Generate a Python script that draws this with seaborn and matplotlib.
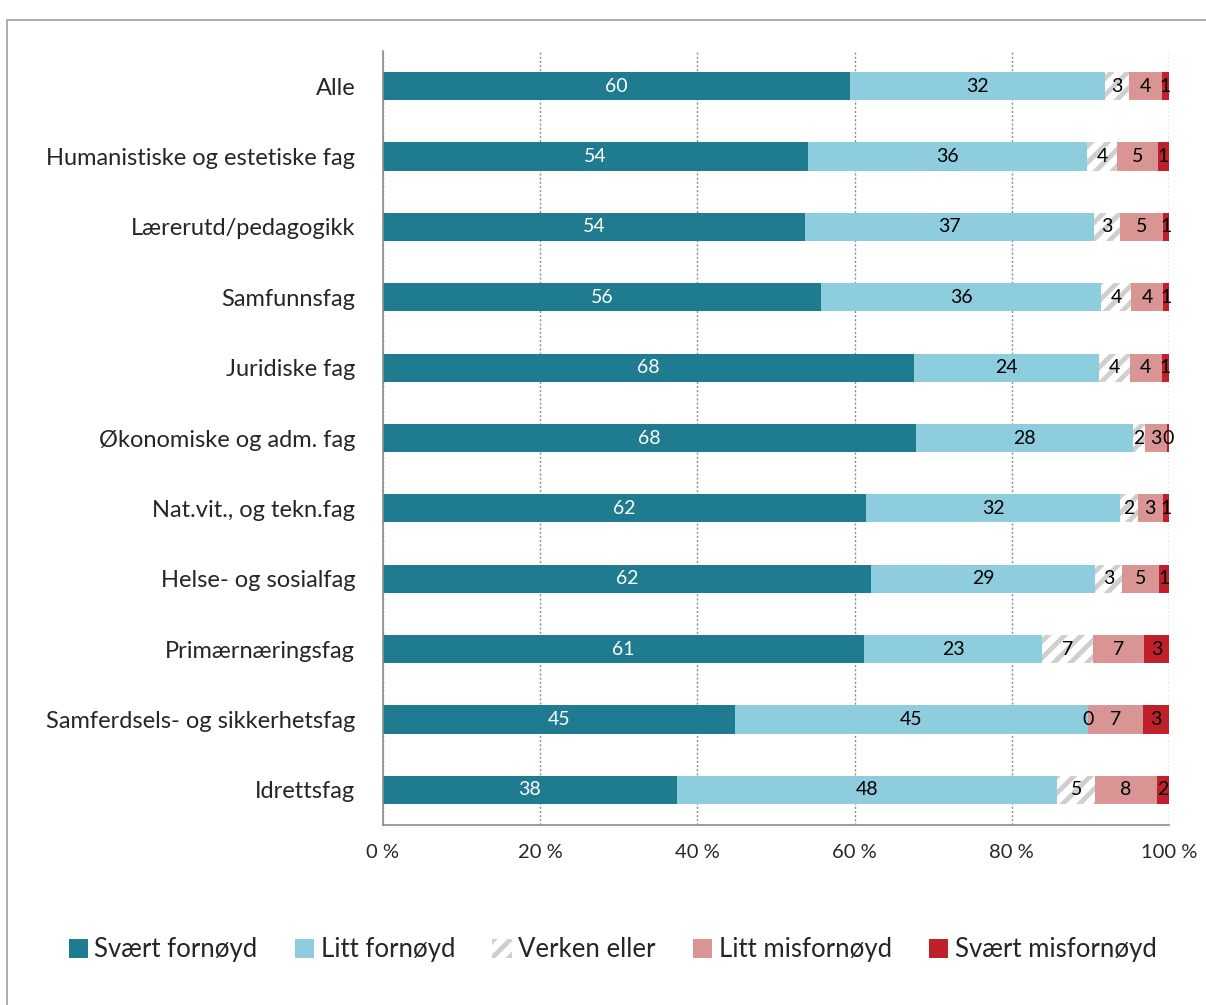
import matplotlib
matplotlib.use("Agg")
import matplotlib.pyplot as plt
import seaborn as sns
import numpy as np
import pandas as pd
from matplotlib.patches import Patch, Rectangle
from matplotlib.ticker import FixedLocator

categories = ["Alle", "Humanistiske og estetiske fag", "Lærerutd/pedagogikk",
              "Samfunnsfag", "Juridiske fag", "Økonomiske og adm. fag",
              "Nat.vit., og tekn.fag", "Helse- og sosialfag", "Primærnæringsfag",
              "Samferdsels- og sikkerhetsfag", "Idrettsfag"]

series_names = ["Svært fornøyd", "Litt fornøyd", "Verken eller",
                "Litt misfornøyd", "Svært misfornøyd"]

# shares in percent
svaert_fornoyd = [59.4, 54.1, 53.7, 55.7, 67.6, 67.8, 61.5, 62.1, 61.2, 44.8, 37.4]
litt_fornoyd = [32.5, 35.5, 36.8, 35.7, 23.5, 27.6, 32.3, 28.5, 22.7, 44.9, 48.4]
verken_eller = [3.0, 3.8, 3.3, 3.8, 3.9, 1.5, 2.2, 3.4, 6.4, 0.0, 4.8]
litt_misfornoyd = [4.2, 5.2, 5.4, 4.1, 4.1, 2.9, 3.2, 4.7, 6.5, 7.0, 7.9]
svaert_misfornoyd = [0.9, 1.4, 0.8, 0.7, 0.9, 0.2, 0.8, 1.3, 3.2, 3.3, 1.5]

# printed labels
lab_svaert_fornoyd = [60, 54, 54, 56, 68, 68, 62, 62, 61, 45, 38]
lab_litt_fornoyd = [32, 36, 37, 36, 24, 28, 32, 29, 23, 45, 48]
lab_verken_eller = [3, 4, 3, 4, 4, 2, 2, 3, 7, 0, 5]
lab_litt_misfornoyd = [4, 5, 5, 4, 4, 3, 3, 5, 7, 7, 8]
lab_svaert_misfornoyd = [1, 1, 1, 1, 1, 0, 1, 1, 3, 3, 2]

colors = ["#1F7B8F", "#8ECDDD", "white", "#D99594", "#C0202A"]
hatch_col = "#CFCFCF"

sns.set_style("white")
plt.rcParams['font.family'] = ['Lato', 'DejaVu Sans']
plt.rcParams['hatch.linewidth'] = 3.5

values = np.array([svaert_fornoyd, litt_fornoyd, verken_eller,
                   litt_misfornoyd, svaert_misfornoyd])
labels = np.array([lab_svaert_fornoyd, lab_litt_fornoyd, lab_verken_eller,
                   lab_litt_misfornoyd, lab_svaert_misfornoyd])
cum = values.cumsum(axis=0)

fig = plt.figure(figsize=(12.06, 10.05), dpi=100)
ax = fig.add_axes([383 / 1206, 1 - 825 / 1005, 786 / 1206, 774 / 1005])

# draw cumulative bars from the widest down so each one shows only its own part
for i in range(4, -1, -1):
    df = pd.DataFrame({"cat": categories, "val": cum[i]})
    kw = dict(color=colors[i], linewidth=0)
    if i == 2:
        kw = dict(color="white", edgecolor=hatch_col, hatch="//", linewidth=0)
    sns.barplot(data=df, x="val", y="cat", orient="h", width=0.4, ax=ax,
                order=categories, saturation=1, **kw)

for i in range(5):
    starts = cum[i] - values[i]
    for j in range(len(categories)):
        xc = starts[j] + values[i][j] / 2
        ax.text(xc, j, str(labels[i][j]), ha="center", va="center",
                fontsize=14, color="white" if i == 0 else "black")

ax.set_xlim(0, 100)
ax.set_ylim(len(categories) - 0.5, -0.5)
ax.set_xticks([0, 20, 40, 60, 80, 100])
ax.set_xticklabels(["0 %", "20 %", "40 %", "60 %", "80 %", "100 %"], fontsize=14.5)
ax.set_xlabel("")
ax.set_ylabel("")
ax.tick_params(axis="y", which="major", length=0, labelsize=17, pad=20)
ax.yaxis.set_minor_locator(FixedLocator(np.arange(-0.5, len(categories), 1)))
ax.tick_params(axis="y", which="minor", length=6, color="#8C8C8C", direction="out")
ax.tick_params(axis="x", length=6, color="#8C8C8C", direction="out", pad=8)
ax.grid(axis="x", color="#8C8C8C", linestyle=(0, (1.5, 1.5)), linewidth=1)
ax.set_axisbelow(True)
for s in ["top", "right"]:
    ax.spines[s].set_visible(False)
for s in ["left", "bottom"]:
    ax.spines[s].set_color("#8C8C8C")
    ax.spines[s].set_linewidth(1.2)

handles = [Patch(facecolor=colors[0], linewidth=0),
           Patch(facecolor=colors[1], linewidth=0),
           Patch(facecolor="white", edgecolor=hatch_col, hatch="//", linewidth=0),
           Patch(facecolor=colors[3], linewidth=0),
           Patch(facecolor=colors[4], linewidth=0)]
fig.legend(handles, series_names, loc="center", bbox_to_anchor=(0.508, 0.055),
           ncol=5, frameon=False, fontsize=18.5, handlelength=0.75,
           handleheight=0.75, handletextpad=0.25, columnspacing=1.45)

fig.patches.append(Rectangle((7 / 1206, -0.01), 1.1, 0.99, transform=fig.transFigure,
                             fill=False, edgecolor="#A0A0A0", linewidth=1.2))

fig.savefig("out.png", dpi=100)
